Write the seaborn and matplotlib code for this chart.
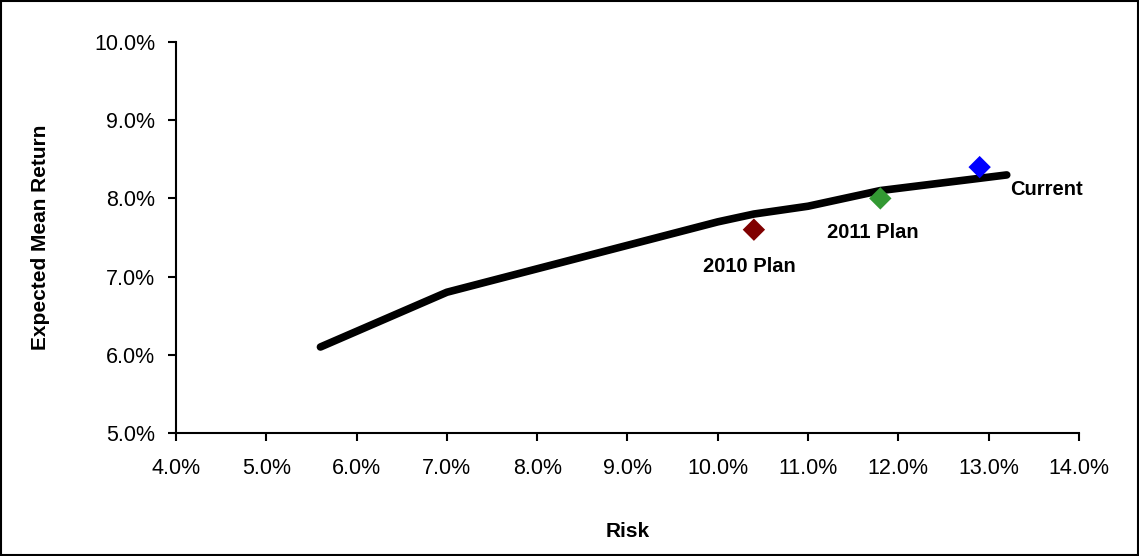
import numpy as np
import pandas as pd
import matplotlib
matplotlib.use("Agg")
import matplotlib.pyplot as plt
import seaborn as sns
from matplotlib.patches import Rectangle
from matplotlib.ticker import PercentFormatter

# efficient frontier (risk %, expected return %)
frontier_risk = [5.6, 7.0, 8.0, 9.0, 10.0, 10.4, 11.0, 11.8, 13.2]
frontier_return = [6.1, 6.8, 7.1, 7.4, 7.7, 7.8, 7.9, 8.1, 8.3]

# portfolios
plan_names = ["2010 Plan", "2011 Plan", "Current"]
plan_risk = [10.4, 11.8, 12.9]
plan_return = [7.6, 8.0, 8.4]
plan_colors = ["#800000", "#339933", "#0000FF"]

x_ticks = [4, 5, 6, 7, 8, 9, 10, 11, 12, 13, 14]
y_ticks = [5, 6, 7, 8, 9, 10]

sns.set_theme(style="white")
plt.rcParams['font.family'] = ['Liberation Sans', 'DejaVu Sans']
plt.rcParams['text.color'] = 'black'

fig = plt.figure(figsize=(11.39, 5.56), dpi=100)
ax = fig.add_axes([0.1545, 0.2212, 0.7928, 0.7033])

frontier = pd.DataFrame({"Risk": frontier_risk, "Return": frontier_return})
plans = pd.DataFrame({"Risk": plan_risk, "Return": plan_return, "Plan": plan_names})

sns.lineplot(data=frontier, x="Risk", y="Return", sort=False, color="black",
             linewidth=5.5, solid_capstyle="round", ax=ax)
sns.scatterplot(data=plans, x="Risk", y="Return", hue="Plan", palette=plan_colors,
                marker="D", s=130, edgecolor="none", legend=False, ax=ax, zorder=3)

# labels next to the points (pixel offsets)
offsets = {"2010 Plan": (-5, -37, "center"), "2011 Plan": (-8, -34, "center"),
           "Current": (30, -22, "left")}
for name, rx, ry in zip(plan_names, plan_risk, plan_return):
    dx, dy, ha = offsets[name]
    ax.annotate(name, (rx, ry), xytext=(dx, dy), textcoords="offset pixels",
                ha=ha, va="center", fontsize=14.5, fontweight="bold", color="black")

ax.set_xlim(4, 14)
ax.set_ylim(5, 10)
ax.set_xticks(x_ticks)
ax.set_yticks(y_ticks)
ax.xaxis.set_major_formatter(PercentFormatter(decimals=1))
ax.yaxis.set_major_formatter(PercentFormatter(decimals=1))
ax.tick_params(axis="both", direction="out", length=6, width=1.5, color="black",
               labelsize=15.5, labelcolor="black", bottom=True, left=True)
ax.tick_params(axis="x", pad=12)
ax.tick_params(axis="y", pad=9)

for side in ["top", "right"]:
    ax.spines[side].set_visible(False)
for side in ["left", "bottom"]:
    ax.spines[side].set_color("black")
    ax.spines[side].set_linewidth(1.5)

ax.set_xlabel("Risk", fontsize=15, fontweight="bold", labelpad=31, color="black")
ax.set_ylabel("Expected Mean Return", fontsize=15, fontweight="bold", labelpad=32,
              color="black")

# chart border
fig.patches.append(Rectangle((0.001, 0.002), 0.998, 0.996, transform=fig.transFigure,
                             fill=False, edgecolor="black", linewidth=1.5))

fig.savefig("out.png", dpi=100)
